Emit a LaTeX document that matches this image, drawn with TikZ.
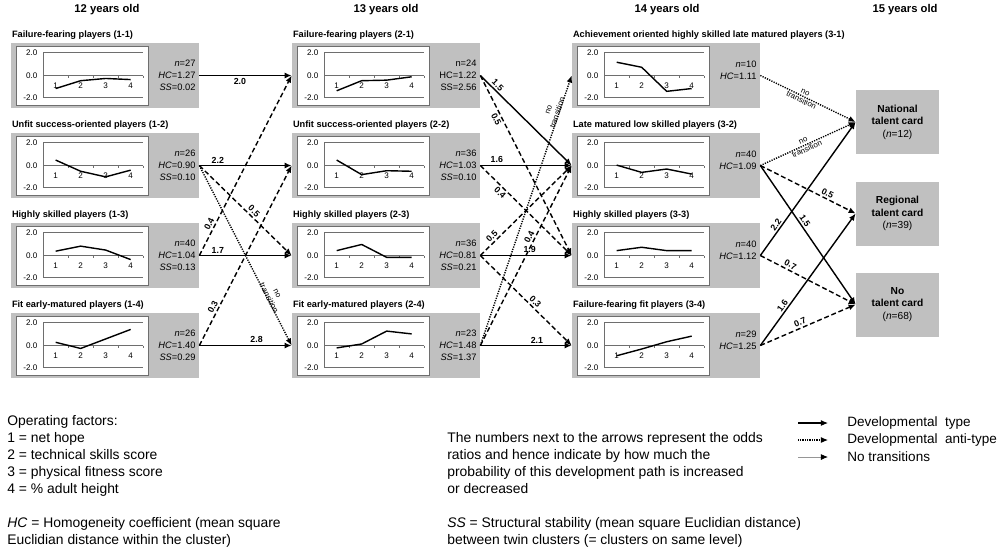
\documentclass[tikz,border=0pt]{standalone}
\usepackage{fontspec}
\setmainfont{Liberation Sans}
\usepackage{xcolor}
\usetikzlibrary{arrows.meta,positioning}
\definecolor{boxgray}{RGB}{192,192,192}
\definecolor{gridgray}{RGB}{110,110,110}
\definecolor{legendgray}{RGB}{150,150,150}
\tikzset{%
	clusterbox/.style = {rectangle, fill=boxgray, minimum width=3.76cm, minimum height=1.3cm, inner sep=0pt},
	outcome/.style    = {rectangle, fill=boxgray, minimum width=1.66cm, minimum height=1.28cm, inner sep=0pt, align=center, font=\fontsize{5.8}{7.1}\selectfont\bfseries},
	ctitle/.style     = {anchor=base west, inner sep=0pt, font=\fontsize{5.25}{6}\selectfont\bfseries},
	header/.style     = {inner sep=0pt, font=\fontsize{6.4}{7.5}\selectfont\bfseries},
	stats/.style      = {anchor=east, inner sep=0pt, align=right, font=\fontsize{5.3}{6.8}\selectfont},
	ticklab/.style    = {inner sep=0pt, font=\fontsize{4.6}{5}\selectfont},
	plotframe/.style  = {draw=gridgray, fill=white, line width=0.4pt},
	plotgrid/.style   = {draw=gridgray, line width=0.4pt},
	plotline/.style   = {line width=0.8pt, line join=round},
	typearr/.style    = {line width=0.8pt, -{Latex[length=4pt,width=3.4pt]}},
	antiarr/.style    = {typearr, dash pattern=on 2.8pt off 1.6pt},
	noarr/.style      = {typearr, dash pattern=on 0.7pt off 0.7pt},
	odds/.style       = {inner sep=1pt, font=\fontsize{5}{6}\selectfont\bfseries},
	notr/.style       = {inner sep=0.5pt, align=center, font=\fontsize{4.5}{5.4}\selectfont},
	legtext/.style    = {anchor=west, inner sep=0pt, font=\fontsize{7.7}{9.4}\selectfont},
	notes/.style      = {anchor=north west, inner sep=0pt, align=left, font=\fontsize{7.9}{9.67}\selectfont},
}
% small line chart inside a cluster box: node name, four cluster means
\newcommand{\clusterplot}[5]{%
	\begin{scope}[shift={(#1.north west)}]
		\draw[plotframe] (5.5,4) rectangle (138,62.5);
		\draw[plotgrid] (32.5,10) -- (132.5,10) (32.5,55) -- (132.5,55) (32.5,10) -- (32.5,55) (32.5,33) -- (132.5,33);
		\foreach \tx in {57.5,82.5,107.5,132.5}
			\draw[plotgrid] (\tx,33) -- (\tx,35);
		\node[ticklab, anchor=east] at (27,10) {2.0};
		\node[ticklab, anchor=east] at (27,33) {0.0};
		\node[ticklab, anchor=east] at (27,55) {-2.0};
		\foreach \cx [count=\ci] in {45,70,95,120}
			\node[ticklab] at (\cx,43) {\ci};
		\draw[plotline] (45,{33-11.2*(#2)}) -- (70,{33-11.2*(#3)}) -- (95,{33-11.2*(#4)}) -- (120,{33-11.2*(#5)});
	\end{scope}}

\begin{document}
\begin{tikzpicture}[x=0.02cm, y=-0.02cm]
	\useasboundingbox (0,0) rectangle (1000,549);
	
	\node[header] (h1) at (107,9.5) {12 years old};
	\node[header] (h2) at (386,9.5) {13 years old};
	\node[header] (h3) at (667,9.5) {14 years old};
	\node[header] (h4) at (905,9.5) {15 years old};
	
	% 12 years old
	\node[clusterbox] (c11) at (105,75.5) {};
	\node[ctitle] at ([shift={(1,-5.5)}]c11.north west) {Failure-fearing players (1-1)};
	\node[stats] at ([xshift=-0.07cm]c11.east) {\textit{n}=27\\\textit{HC}=1.27\\\textit{SS}=0.02};
	\clusterplot{c11}{-1.15}{-0.45}{-0.25}{-0.35}
	
	\node[clusterbox] (c12) at (105,165.5) {};
	\node[ctitle] at ([shift={(1,-5.5)}]c12.north west) {Unfit success-oriented players (1-2)};
	\node[stats] at ([xshift=-0.07cm]c12.east) {\textit{n}=26\\\textit{HC}=0.90\\\textit{SS}=0.10};
	\clusterplot{c12}{0.5}{-0.5}{-1.0}{-0.4}
	
	\node[clusterbox] (c13) at (105,255.5) {};
	\node[ctitle] at ([shift={(1,-5.5)}]c13.north west) {Highly skilled players (1-3)};
	\node[stats] at ([xshift=-0.07cm]c13.east) {\textit{n}=40\\\textit{HC}=1.04\\\textit{SS}=0.13};
	\clusterplot{c13}{0.4}{0.85}{0.5}{-0.35}
	
	\node[clusterbox] (c14) at (105,345.5) {};
	\node[ctitle] at ([shift={(1,-5.5)}]c14.north west) {Fit early-matured players (1-4)};
	\node[stats] at ([xshift=-0.07cm]c14.east) {\textit{n}=26\\\textit{HC}=1.40\\\textit{SS}=0.29};
	\clusterplot{c14}{0.3}{-0.25}{0.6}{1.45}
	
	% 13 years old
	\node[clusterbox] (c21) at (386,75.5) {};
	\node[ctitle] at ([shift={(1,-5.5)}]c21.north west) {Failure-fearing players (2-1)};
	\node[stats] at ([xshift=-0.07cm]c21.east) {n=24\\HC=1.22\\SS=2.56};
	\clusterplot{c21}{-1.35}{-0.45}{-0.4}{-0.1}
	
	\node[clusterbox] (c22) at (386,165.5) {};
	\node[ctitle] at ([shift={(1,-5.5)}]c22.north west) {Unfit success-oriented players (2-2)};
	\node[stats] at ([xshift=-0.07cm]c22.east) {\textit{n}=36\\\textit{HC}=1.03\\\textit{SS}=0.10};
	\clusterplot{c22}{0.5}{-0.8}{-0.45}{-0.5}
	
	\node[clusterbox] (c23) at (386,255.5) {};
	\node[ctitle] at ([shift={(1,-5.5)}]c23.north west) {Highly skilled players (2-3)};
	\node[stats] at ([xshift=-0.07cm]c23.east) {\textit{n}=36\\\textit{HC}=0.81\\\textit{SS}=0.21};
	\clusterplot{c23}{0.45}{1.0}{-0.15}{-0.15}
	
	\node[clusterbox] (c24) at (386,345.5) {};
	\node[ctitle] at ([shift={(1,-5.5)}]c24.north west) {Fit early-matured players (2-4)};
	\node[stats] at ([xshift=-0.07cm]c24.east) {\textit{n}=23\\\textit{HC}=1.48\\\textit{SS}=1.37};
	\clusterplot{c24}{-0.2}{0.15}{1.3}{1.05}
	
	% 14 years old
	\node[clusterbox] (c31) at (666,75.5) {};
	\node[ctitle] at ([shift={(1,-5.5)}]c31.north west) {Achievement oriented highly skilled late matured players (3-1)};
	\node[stats] at ([shift={(-3.5,-5.5)}]c31.east) {\textit{n}=10\\\textit{HC}=1.11};
	\clusterplot{c31}{1.2}{0.75}{-1.4}{-1.15}
	
	\node[clusterbox] (c32) at (666,165.5) {};
	\node[ctitle] at ([shift={(1,-5.5)}]c32.north west) {Late matured low skilled players (3-2)};
	\node[stats] at ([shift={(-3.5,-5.5)}]c32.east) {\textit{n}=40\\\textit{HC}=1.09};
	\clusterplot{c32}{0.05}{-0.6}{-0.3}{-0.75}
	
	\node[clusterbox] (c33) at (666,255.5) {};
	\node[ctitle] at ([shift={(1,-5.5)}]c33.north west) {Highly skilled players (3-3)};
	\node[stats] at ([shift={(-3.5,-5.5)}]c33.east) {\textit{n}=40\\\textit{HC}=1.12};
	\clusterplot{c33}{0.45}{0.75}{0.45}{0.45}
	
	\node[clusterbox] (c34) at (666,345.5) {};
	\node[ctitle] at ([shift={(1,-5.5)}]c34.north west) {Failure-fearing fit players (3-4)};
	\node[stats] at ([shift={(-3.5,-5.5)}]c34.east) {\textit{n}=29\\\textit{HC}=1.25};
	\clusterplot{c34}{-0.9}{-0.3}{0.35}{0.85}
	
	% 15 years old
	\node[outcome] (nat) at (897.5,122) {National\\talent card\\\mdseries(\textit{n}=12)};
	\node[outcome] (reg) at (897.5,213.5) {Regional\\talent card\\\mdseries(\textit{n}=39)};
	\node[outcome] (notc) at (897.5,304.5) {No\\talent card\\\mdseries(\textit{n}=68)};
	
	% 12 -> 13
	\draw[typearr] (c11.east) -- node[odds, below, pos=0.44] {2.0} (c21.west);
	\draw[typearr] (c12.east) -- node[odds, above, pos=0.2] {2.2} (c22.west);
	\draw[antiarr] (c12.east) -- node[odds, above, sloped, pos=0.55] {0.5} (c23.west);
	\draw[noarr] (c12.east) -- node[notr, above=-1.5pt, sloped, pos=0.74] {no\\transition} (c24.west);
	\draw[antiarr] (c13.east) -- node[odds, above, sloped, pos=0.16] {0.4} (c21.west);
	\draw[typearr] (c13.east) -- node[odds, above, pos=0.2] {1.7} (c23.west);
	\draw[antiarr] (c14.east) -- node[odds, above, sloped, pos=0.2] {0.3} (c22.west);
	\draw[typearr] (c14.east) -- node[odds, above, pos=0.62] {2.8} (c24.west);
	
	% 13 -> 14
	\draw[typearr] (c21.east) -- node[odds, above, sloped, pos=0.15] {1.5} (c32.west);
	\draw[antiarr] (c21.east) -- node[odds, below, sloped, pos=0.23] {0.5} (c33.west);
	\draw[typearr] (c22.east) -- node[odds, above, pos=0.18] {1.6} (c32.west);
	\draw[antiarr] (c22.east) -- node[odds, below, sloped, pos=0.26] {0.4} (c33.west);
	\draw[antiarr] (c23.east) -- node[odds, above, sloped, pos=0.17] {0.5} (c32.west);
	\draw[typearr] (c23.east) -- node[odds, above, pos=0.54] {1.9} (c33.west);
	\draw[antiarr] (c23.east) -- node[odds, above, sloped, pos=0.56] {0.3} (c34.west);
	\draw[noarr] (c24.east) -- node[notr, above=-1.5pt, sloped, pos=0.86] {no\\transition} (c31.west);
	\draw[antiarr] (c24.east) -- node[odds, above, sloped, pos=0.59] {0.4} (c32.west);
	\draw[typearr] (c24.east) -- node[odds, above, pos=0.62] {2.1} (c34.west);
	
	% 14 -> 15
	\draw[noarr] (c31.east) -- node[notr, sloped, pos=0.45] {no\\transition} (nat.west);
	\draw[noarr] (c32.east) -- node[notr, sloped, pos=0.47] {no\\transition} (nat.west);
	\draw[antiarr] (c32.east) -- node[odds, above, sloped, pos=0.68] {0.5} (reg.west);
	\draw[typearr] (c32.east) -- node[odds, above, sloped, pos=0.42] {1.5} (notc.west);
	\draw[typearr] (c33.east) -- node[odds, above, sloped, pos=0.21] {2.2} (nat.west);
	\draw[antiarr] (c33.east) -- node[odds, above, sloped, pos=0.29] {0.7} (notc.west);
	\draw[typearr] (c34.east) -- node[odds, above, sloped, pos=0.28] {1.6} (reg.west);
	\draw[antiarr] (c34.east) -- node[odds, above, sloped, pos=0.44] {0.7} (notc.west);
	
	% notes
	\node[notes] (factors) at (7,415) {Operating factors:\\1 = net hope\\2 = technical skills score\\3 = physical fitness score\\4 = \% adult height};
	\node[notes] (hcnote) at (7,517) {\textit{HC} = Homogeneity coefficient (mean square\\Euclidian distance within the cluster)};
	\node[notes] (oddsnote) at (447,432) {The numbers next to the arrows represent the odds\\ratios and hence indicate by how much the\\probability of this development path is increased\\or decreased};
	\node[notes] (ssnote) at (447,517) {\textit{SS} = Structural stability (mean square Euclidian distance)\\between twin clusters (= clusters on same level)};
	
	% legend
	\node[legtext] (lg1) at (847,423) {Developmental~ type};
	\node[legtext] (lg2) at (847,440) {Developmental~ anti-type};
	\node[legtext] (lg3) at (847,457) {No transitions};
	\coordinate (lg1s) at (798,423);
	\coordinate (lg2s) at (798,440);
	\coordinate (lg3s) at (798,457);
	\draw[line width=0.6pt, -{Latex[length=4pt,width=3.4pt]}] (lg1s) -- ([xshift=-0.38cm]lg1.west);
	\draw[line width=0.6pt, dash pattern=on 0.5pt off 0.5pt, -{Latex[length=4pt,width=3.4pt]}] (lg2s) -- ([xshift=-0.38cm]lg2.west);
	\draw[line width=0.5pt, draw=legendgray, -{Latex[length=4pt,width=3.4pt,color=black]}] (lg3s) -- ([xshift=-0.38cm]lg3.west);
\end{tikzpicture}
\end{document}
